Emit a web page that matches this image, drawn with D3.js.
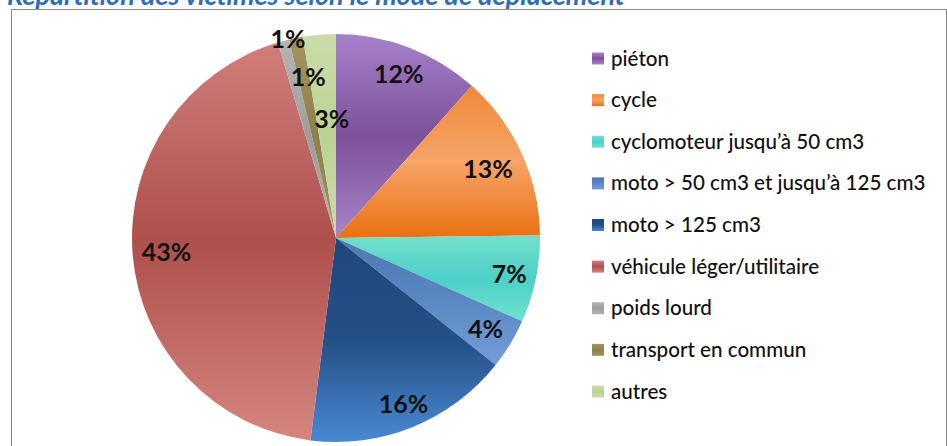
<!DOCTYPE html>
<html>
<head>
<meta charset="utf-8">
<script src="https://cdn.jsdelivr.net/npm/d3@7"></script>
<style>
  body { margin: 0; background: #fff; }
  svg { display: block; font-family: Lato, "Open Sans", sans-serif; }
</style>
</head>
<body>
<svg id="chart" width="947" height="446"></svg>
<script>
// values (percent of victims)
const categories = [
  "piéton", "cycle", "cyclomoteur jusqu’à 50 cm3", "moto > 50 cm3 et jusqu’à 125 cm3",
  "moto > 125 cm3", "véhicule léger/utilitaire", "poids lourd", "transport en commun", "autres"
]
const shares = [11.6, 13.2, 6.9, 4.0, 16.3, 43.4, 0.9, 1.1, 2.6]
const shareLabels = ["12%", "13%", "7%", "4%", "16%", "43%", "1%", "1%", "3%"]

// gradient stops (top, middle, bottom) for each slice, Excel-like shading
const fills = [
  ["#a681ca", "#7d519b", "#a584c8"],
  ["#f0883a", "#f6a468", "#ea6f10"],
  ["#74dfcb", "#4dcfc8", "#6ee2cc"],
  ["#4d78b2", "#5b87c2", "#729dd8"],
  ["#1f487c", "#244f87", "#4a89d3"],
  ["#d07e7b", "#ae504c", "#d5857f"],
  ["#b4b4b4", "#9d9d9d", "#b4b4b4"],
  ["#a39460", "#8f7f4a", "#a39460"],
  ["#cadca8", "#bcd294", "#cadca8"]
]

const svg = d3.select("#chart")
const cx = 336, cy = 238, R = 204

// title, mostly cut off at the top of the frame
svg.append("text")
  .attr("x", 7)
  .attr("y", 5)
  .style("font-size", "27px")
  .style("font-weight", "bold")
  .style("font-style", "italic")
  .style("fill", "#2f6db5")
  .text("Répartition des victimes selon le mode de déplacement")

// chart frame
svg.append("rect")
  .attr("x", 11.5)
  .attr("y", 9.5)
  .attr("width", 935)
  .attr("height", 460)
  .style("fill", "#fff")
  .style("stroke", "#8c8c8c")
  .style("stroke-width", 1)

const defs = svg.append("defs")
fills.forEach((f, i) => {
  const g = defs.append("linearGradient")
    .attr("id", "grad" + i)
    .attr("x1", 0).attr("y1", 0).attr("x2", 0).attr("y2", 1)
  g.append("stop").attr("offset", "0%").attr("stop-color", f[0])
  g.append("stop").attr("offset", "50%").attr("stop-color", f[1])
  g.append("stop").attr("offset", "100%").attr("stop-color", f[2])
})

const pie = d3.pie().sort(null).value(d => d)
const arcs = pie(shares)

const arc = d3.arc().innerRadius(0).outerRadius(R)

const focus = svg.append("g")
  .attr("transform", "translate(" + cx + "," + cy + ")")

focus.selectAll(".slice")
  .data(arcs)
  .join("path")
  .attr("class", "slice")
  .attr("d", arc)
  .style("fill", (d, i) => "url(#grad" + i + ")")

// label distance from centre, and small angle nudges (degrees) for the thin slices
const labelRadius = [176, 167, 177, 175, 179, 170, 205, 163, 119]
const labelNudge = [0, 0, 0, 0, 0, 0, 1.4, 1.5, 2.6]

focus.selectAll(".pct")
  .data(arcs)
  .join("text")
  .attr("class", "pct")
  .attr("text-anchor", "middle")
  .attr("dy", "0.36em")
  .attr("transform", (d, i) => {
    const a = (d.startAngle + d.endAngle) / 2 + labelNudge[i] * Math.PI / 180
    const r = labelRadius[i]
    return "translate(" + (r * Math.sin(a)) + "," + (-r * Math.cos(a)) + ")"
  })
  .style("font-size", "25px")
  .style("font-weight", "bold")
  .style("fill", "#111")
  .text((d, i) => shareLabels[i])

// legend
const legendY = d3.scalePoint()
  .domain(categories)
  .range([58.5, 391.5])

const legend = svg.append("g")
  .selectAll("g")
  .data(categories)
  .join("g")
  .attr("transform", d => "translate(592," + legendY(d) + ")")

legend.append("rect")
  .attr("x", 0)
  .attr("y", -6)
  .attr("width", 12)
  .attr("height", 12)
  .style("fill", (d, i) => "url(#grad" + i + ")")

legend.append("text")
  .attr("x", 19)
  .attr("y", 7)
  .style("font-size", "20.6px")
  .style("font-weight", 500)
  .style("fill", "#111")
  .text(d => d)
</script>
</body>
</html>
